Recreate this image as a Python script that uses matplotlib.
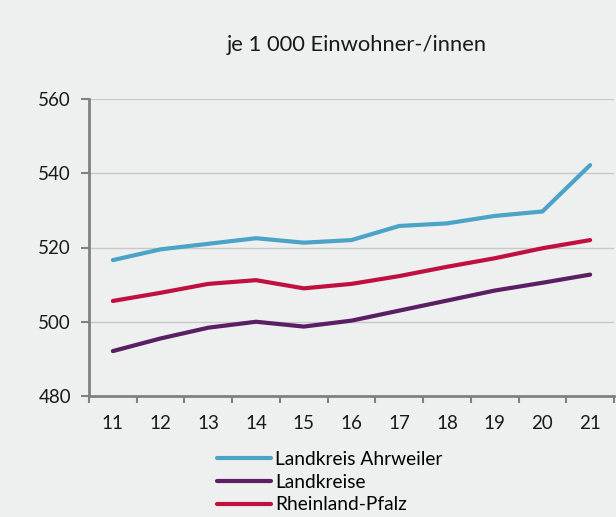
import matplotlib.pyplot as plt
import numpy as np

plt.rcParams["font.family"] = ["Lato", "DejaVu Sans"]

years = ["11", "12", "13", "14", "15", "16", "17", "18", "19", "20", "21"]
ahrweiler = [516.6, 519.5, 521.0, 522.5, 521.3, 522.0, 525.8, 526.5, 528.5, 529.7, 542.2]
landkreise = [492.1, 495.5, 498.4, 500.0, 498.7, 500.3, 503.0, 505.7, 508.4, 510.5, 512.7]
rlp = [505.6, 507.8, 510.2, 511.2, 509.0, 510.2, 512.3, 514.8, 517.1, 519.8, 522.0]

bg = "#eef0ef"
fig = plt.figure(figsize=(6.16, 5.17), dpi=100, facecolor=bg)
ax = fig.add_axes([89 / 616, 1 - 396 / 517, 525 / 616, 297 / 517], facecolor=bg)

x = np.arange(len(years))
l1, = ax.plot(x, ahrweiler, color="#4ba3c7", lw=3, solid_capstyle="round", label="Landkreis Ahrweiler")
l2, = ax.plot(x, landkreise, color="#5a1f63", lw=3, solid_capstyle="round", label="Landkreise")
l3, = ax.plot(x, rlp, color="#c0103f", lw=3, solid_capstyle="round", label="Rheinland-Pfalz")

ax.set_xlim(-0.5, len(years) - 0.5)
ax.set_ylim(480, 560)
ax.set_yticks(np.arange(480, 561, 20))
ax.set_xticks(x)
ax.set_xticklabels(years)
ax.set_xticks(np.arange(-0.5, len(years), 1), minor=True)
ax.tick_params(axis="x", which="major", length=0, pad=14, labelsize=13.5, colors="#1a1a1a")
ax.tick_params(axis="x", which="minor", length=5, width=1.5, color="#808080")
ax.tick_params(axis="y", length=6, width=1.5, color="#808080", pad=7, labelsize=13.5, labelcolor="#1a1a1a")
ax.grid(axis="y", color="#c8c8c8", lw=1)
ax.set_axisbelow(True)
for side in ["top", "right"]:
    ax.spines[side].set_visible(False)
ax.spines["left"].set_color("#808080")
ax.spines["left"].set_linewidth(2)
ax.spines["bottom"].set_color("#808080")
ax.spines["bottom"].set_linewidth(2)

fig.text(357 / 616, 1 - 45 / 517, "je 1 000 Einwohner-/innen", ha="center", va="center",
         fontsize=15.8, color="#1a1a1a")

fig.legend(handles=[l1, l2, l3], loc="upper left", bbox_to_anchor=(217 / 616, 1 - 451 / 517),
           frameon=False, fontsize=13.8, handlelength=2.8, handletextpad=0.22,
           labelspacing=0.3, borderpad=0, borderaxespad=0)

fig.savefig("out.png", dpi=100, facecolor=bg)
